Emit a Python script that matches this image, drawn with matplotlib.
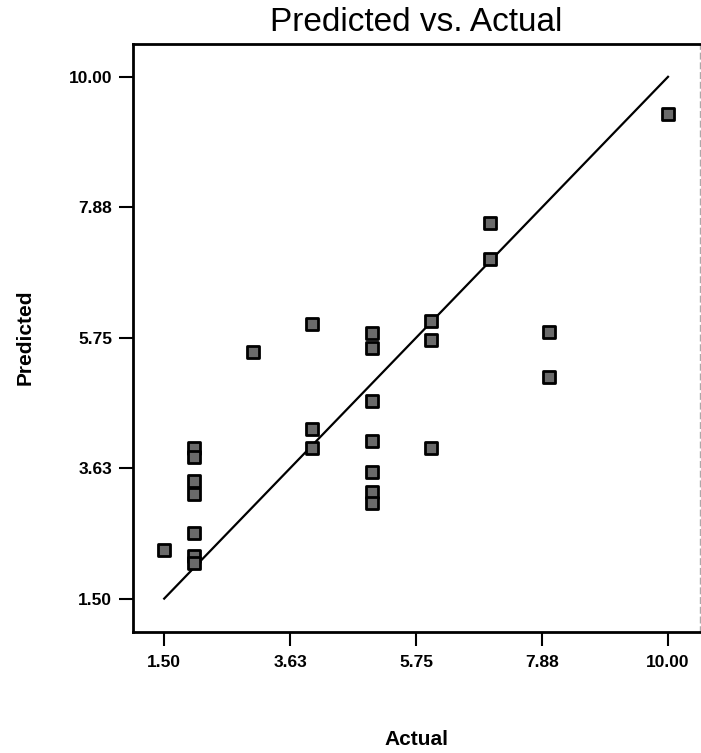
import matplotlib
matplotlib.use("Agg")
import matplotlib.pyplot as plt

actual = [1.5, 2, 2, 2, 2, 2, 2, 2, 3, 4, 4, 4, 5, 5, 5, 5, 5, 5, 5,
          6, 6, 6, 7, 7, 8, 8, 10]
predicted = [2.29, 3.96, 3.81, 3.41, 3.20, 2.57, 2.19, 2.08, 5.51, 5.97, 4.27, 3.96,
             5.82, 5.58, 4.72, 4.07, 3.56, 3.24, 3.05,
             6.02, 5.71, 3.96, 7.62, 7.03, 5.84, 5.11, 9.40]
ticks = [1.50, 3.63, 5.75, 7.88, 10.00]
tick_labels = ["1.50", "3.63", "5.75", "7.88", "10.00"]
line_ends = [1.5, 10.0]

plt.rcParams['font.family'] = ['Liberation Sans', 'DejaVu Sans']

fig = plt.figure(figsize=(7.01, 7.53), dpi=100)
ax = fig.add_axes([0.19, 0.161, 0.8086, 0.781])

ax.plot(line_ends, line_ends, color='black', linewidth=1.6, zorder=2)
ax.scatter(actual, predicted, marker='s', s=75, facecolor='#6a6a6a',
           edgecolor='black', linewidth=2.0, zorder=3)

ax.set_xlim(0.977, 10.54)
ax.set_ylim(0.96, 10.54)
ax.set_xticks(ticks)
ax.set_xticklabels(tick_labels)
ax.set_yticks(ticks)
ax.set_yticklabels(tick_labels)
ax.tick_params(direction='out', length=10, width=1.5, labelsize=12.5, pad=7)
ax.tick_params(axis='y', pad=5)
for lbl in ax.get_xticklabels() + ax.get_yticklabels():
    lbl.set_fontweight('bold')

for s in ['left', 'bottom', 'top']:
    ax.spines[s].set_linewidth(2.0)
ax.spines['right'].set_linewidth(1.0)
ax.spines['right'].set_color('#aaaaaa')
ax.spines['right'].set_linestyle((0, (4, 3)))

ax.set_title("Predicted vs. Actual", fontsize=24, pad=9)
ax.set_xlabel("Actual", fontsize=15, fontweight='bold', va='center')
ax.set_ylabel("Predicted", fontsize=15, fontweight='bold', va='center')
ax.xaxis.set_label_coords(0.5, -0.184)
ax.yaxis.set_label_coords(-0.19, 0.5)

fig.savefig("out.png", dpi=100, facecolor='white')
